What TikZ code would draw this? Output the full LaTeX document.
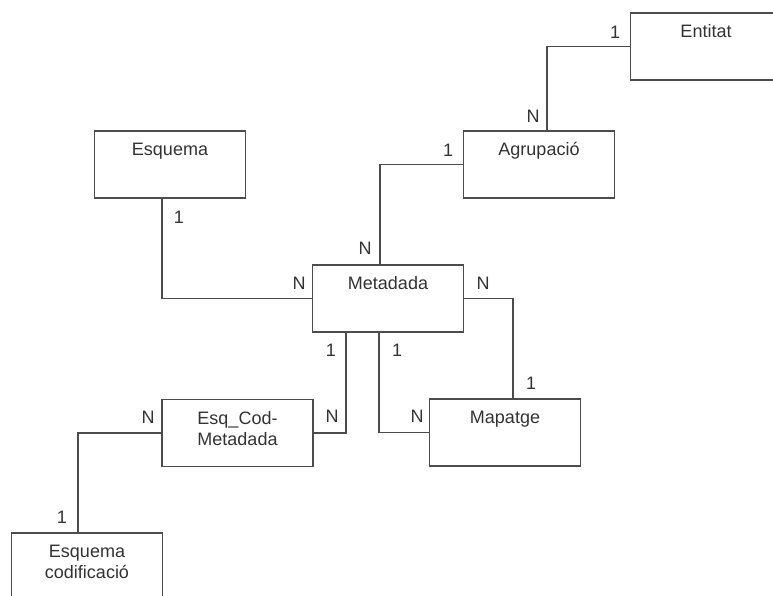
\documentclass[tikz,border=0pt]{standalone}
\usepackage{fontspec}
\setmainfont{Liberation Sans}
\begin{document}
\begin{tikzpicture}[x=1pt, y=-1pt,
    every node/.style={font=\fontsize{18}{21}\selectfont, text=black!80},
    taula/.style={draw=black!70, line width=1.1pt, fill=white, minimum width=151pt, minimum height=67pt, inner sep=0pt},
    nom/.style={anchor=north, inner sep=0pt, yshift=-12pt, align=center},
    card/.style={inner sep=0pt},
    rel/.style={draw=black!70, line width=1.1pt}]
        \useasboundingbox (0,0) rectangle (773,596);

        % Taules
        \node[taula, label={[nom]north:Entitat}] (entitat) at (706,46.5) {};
        \node[taula, label={[nom]north:Agrupació}] (agrupacio) at (539,164.5) {};
        \node[taula, label={[nom]north:Esquema}] (esquema) at (170,164.5) {};
        \node[taula, label={[nom]north:Metadada}] (metadada) at (388,298.5) {};
        \node[taula, label={[nom]north:Mapatge}] (mapatge) at (505,432.5) {};
        \node[taula, label={[nom]north:Esq\_Cod-\\Metadada}] (esqcod) at (237.5,433) {};
        \node[taula, label={[nom]north:Esquema\\codificació}] (esqcodif) at (87,566.5) {};

        % Relacions
        \draw[rel] (entitat.west) -| ([xshift=8pt]agrupacio.north);
        \draw[rel] (agrupacio.west) -| ([xshift=-8pt]metadada.north);
        \draw[rel] ([xshift=-8pt]esquema.south) |- (metadada.west);
        \draw[rel] (metadada.east) -| ([xshift=8pt]mapatge.north);
        \draw[rel] ([xshift=-42pt]metadada.south) |- (esqcod.east);
        \draw[rel] ([xshift=-9pt]metadada.south) |- (mapatge.west);
        \draw[rel] (esqcod.west) -| ([xshift=-9pt]esqcodif.north);

        % Cardinalitats
        \node[card] (c-ent) at (615,32) {1};
        \node[card] (c-agr1) at (533,116) {N};
        \node[card] (c-agr2) at (448,150) {1};
        \node[card] (c-met1) at (365,248) {N};
        \node[card] (c-esq) at (179,217) {1};
        \node[card] (c-met2) at (299,283) {N};
        \node[card] (c-met3) at (483,283) {N};
        \node[card] (c-map1) at (531,383) {1};
        \node[card] (c-met4) at (331,350) {1};
        \node[card] (c-met5) at (397,350) {1};
        \node[card] (c-ecm1) at (332,416) {N};
        \node[card] (c-map2) at (417,416) {N};
        \node[card] (c-ecm2) at (148,417) {N};
        \node[card] (c-ecc) at (62,517) {1};

    \end{tikzpicture}
\end{document}
